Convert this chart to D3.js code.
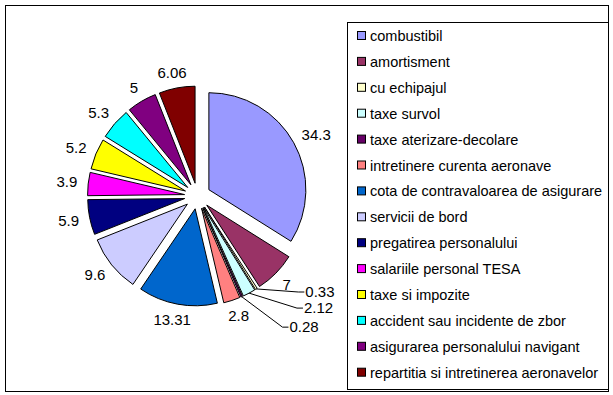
<!DOCTYPE html>
<html>
<head>
<meta charset="utf-8">
<script src="https://cdn.jsdelivr.net/npm/d3@7"></script>
<style>
  body { margin: 0; background: #fff; }
  text { font-family: "Liberation Sans", Arial, sans-serif; }
</style>
</head>
<body>
<svg id="chart"></svg>
<script>
// categories, values and slice colours, clockwise from 12 o'clock
const categories = [
  'combustibil', 'amortisment', 'cu echipajul', 'taxe survol',
  'taxe aterizare-decolare', 'intretinere curenta aeronave',
  'cota de contravaloarea de asigurare', 'servicii de bord',
  'pregatirea personalului', 'salariile personal TESA', 'taxe si impozite',
  'accident sau incidente de zbor', 'asigurarea personalului navigant',
  'repartitia si intretinerea aeronavelor'
];
const values = [34.3, 7, 0.33, 2.12, 0.28, 2.8, 13.31, 9.6, 5.9, 3.9, 5.2, 5.3, 5, 6.06];
const valueLabels = ['34.3', '7', '0.33', '2.12', '0.28', '2.8', '13.31', '9.6', '5.9', '3.9', '5.2', '5.3', '5', '6.06'];
const colors = [
  '#9999FF', '#993366', '#FFFFCC', '#CCFFFF', '#660066', '#FF8080', '#0066CC',
  '#CCCCFF', '#000080', '#FF00FF', '#FFFF00', '#00FFFF', '#800080', '#800000'
];

const config = {
  width: 613, height: 395,
  cx: 197.5, cy: 196, radius: 97, explode: 13,
  labelGap: 9,
  legend: { x: 347.5, y: 22.5, w: 261, h: 367, rowTop: 36, rowStep: 25.9 }
};

// the three thin slices get their labels pulled out with leader lines (polar: deg, px from centre)
const leaderLabels = {
  'cu echipajul': { angle: 128.1, dist: 155.6 },
  'taxe survol': { angle: 132.8, dist: 165 },
  'taxe aterizare-decolare': { angle: 140.9, dist: 169 }
};

const data = categories.map((c, i) => ({ name: c, value: values[i], label: valueLabels[i], color: colors[i] }));

const svg = d3.select('#chart')
  .attr('width', config.width)
  .attr('height', config.height);

svg.append('rect')
  .attr('x', 5.5).attr('y', 5.5)
  .attr('width', 603).attr('height', 386)
  .attr('fill', '#fff')
  .attr('stroke', '#000');

const color = d3.scaleOrdinal().domain(categories).range(colors);

const pie = d3.pie().sort(null).value(d => d.value);
const arcs = pie(data);
const arc = d3.arc().innerRadius(0).outerRadius(config.radius);

const chart = svg.append('g')
  .attr('transform', `translate(${config.cx}, ${config.cy})`);

const mid = d => (d.startAngle + d.endAngle) / 2;
const offset = d => [config.explode * Math.sin(mid(d)), -config.explode * Math.cos(mid(d))];

chart.selectAll('.slice')
  .data(arcs)
  .join('path')
  .attr('class', 'slice')
  .attr('transform', d => `translate(${offset(d)})`)
  .attr('d', arc)
  .attr('fill', d => color(d.data.name))
  .attr('stroke', '#000')
  .attr('stroke-width', 1)
  .attr('stroke-linejoin', 'miter');

// labels
const fontSize = 15;
const measure = svg.append('text').attr('font-size', fontSize).attr('visibility', 'hidden');
const textWidth = s => { measure.text(s); return measure.node().getComputedTextLength(); };

arcs.forEach(d => {
  const a = mid(d);
  const w = textWidth(d.data.label);
  const lead = leaderLabels[d.data.name];
  let x, y;
  if (lead) {
    const la = lead.angle * Math.PI / 180;
    x = lead.dist * Math.sin(la);
    y = -lead.dist * Math.cos(la);
    const [ox, oy] = offset(d);
    const start = [ox + config.radius * Math.sin(a), oy - config.radius * Math.cos(a)];
    const left = x - w / 2 - 1;
    chart.append('path')
      .attr('d', d3.line()([start, [left - 6, y], [left, y]]))
      .attr('fill', 'none')
      .attr('stroke', '#000')
      .attr('stroke-width', 1);
  } else {
    const r = config.explode + config.radius + config.labelGap;
    x = r * Math.sin(a) + Math.sin(a) * (w / 2 + 2);
    y = -r * Math.cos(a) - Math.cos(a) * (fontSize * 0.45);
  }
  chart.append('text')
    .attr('class', 'slice-label')
    .attr('x', x)
    .attr('y', y)
    .attr('dy', '0.35em')
    .attr('text-anchor', 'middle')
    .attr('font-size', fontSize)
    .text(d.data.label);
});
measure.remove();

// legend
const lg = config.legend;
const legend = svg.append('g');
legend.append('rect')
  .attr('x', lg.x).attr('y', lg.y)
  .attr('width', lg.w).attr('height', lg.h)
  .attr('fill', '#fff')
  .attr('stroke', '#000');

const rows = legend.selectAll('.legend-row')
  .data(data)
  .join('g')
  .attr('class', 'legend-row')
  .attr('transform', (d, i) => `translate(0, ${lg.rowTop + i * lg.rowStep})`);

rows.append('rect')
  .attr('x', 357.5).attr('y', -4.5)
  .attr('width', 8).attr('height', 8)
  .attr('fill', d => color(d.name))
  .attr('stroke', '#000');

rows.append('text')
  .attr('x', 370)
  .attr('y', 0)
  .attr('dy', '0.35em')
  .attr('font-size', 14.5)
  .text(d => d.name);
</script>
</body>
</html>
